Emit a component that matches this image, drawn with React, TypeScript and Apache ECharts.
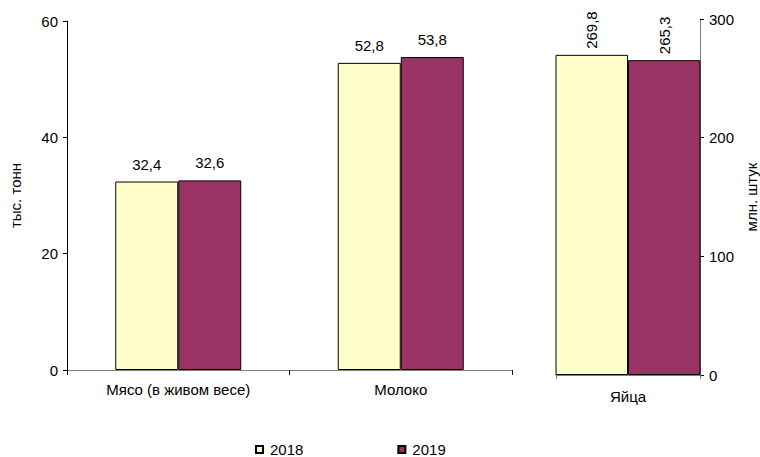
import React, { useEffect, useRef } from "react";
import * as echarts from "echarts";

const leftCategories = ["Мясо (в живом весе)", "Молоко"];
const rightCategories = ["Яйца"];
const seriesNames = ["2018", "2019"];
const left2018 = [32.4, 52.8];
const left2019 = [32.6, 53.8];
const eggs2018 = [269.8];
const eggs2019 = [265.3];
const colors = ["#FFFFCC", "#993366"];

const FONT = "Liberation Sans, Arial, sans-serif";
const fmt = (p: any) => String(p.value).replace(".", ",");

export default function App() {
  const ref = useRef<HTMLDivElement>(null);
  useEffect(() => {
    if (!ref.current) return;
    const chart = echarts.init(ref.current, null, { renderer: "svg" });
    const baseText = { fontFamily: FONT, fontSize: 15, color: "#000" };
    const eggLabel = {
      show: true,
      position: "top",
      rotate: 90,
      align: "left",
      verticalAlign: "middle",
      distance: 6,
      formatter: fmt,
      ...baseText,
    };
    const leftLabel = { show: true, position: "top", distance: 10, formatter: fmt, ...baseText };
    chart.setOption({
      animation: false,
      backgroundColor: "#fff",
      textStyle: { fontFamily: FONT },
      legend: {
        data: seriesNames,
        left: 250,
        top: 437,
        icon: "rect",
        itemWidth: 7,
        itemHeight: 7,
        itemGap: 94,
        textStyle: { ...baseText, padding: [0, 0, 0, 2] },
      },
      grid: [
        { left: 67, top: 21, width: 445, height: 349 },
        { left: 556, top: 19, width: 146, height: 356 },
      ],
      xAxis: [
        {
          type: "category",
          gridIndex: 0,
          data: leftCategories,
          axisLine: { lineStyle: { color: "#808080", width: 1 } },
          axisTick: { show: true, length: 5, lineStyle: { color: "#000" } },
          axisLabel: { ...baseText, margin: 12 },
        },
        {
          type: "category",
          gridIndex: 1,
          data: rightCategories,
          axisLine: { lineStyle: { color: "#808080", width: 1 } },
          axisTick: { show: true, length: 4, lineStyle: { color: "#808080" } },
          axisLabel: { ...baseText, margin: 14 },
        },
      ],
      yAxis: [
        {
          type: "value",
          gridIndex: 0,
          min: 0,
          max: 60,
          interval: 20,
          position: "left",
          name: "тыс. тонн",
          nameLocation: "middle",
          nameRotate: 90,
          nameGap: 44,
          nameTextStyle: { ...baseText },
          axisLine: { show: true, lineStyle: { color: "#000", width: 1 } },
          axisTick: { show: true, length: 4, lineStyle: { color: "#000" } },
          axisLabel: { ...baseText, margin: 9 },
          splitLine: { show: false },
        },
        {
          type: "value",
          gridIndex: 1,
          min: 0,
          max: 300,
          interval: 100,
          position: "right",
          name: "млн. штук",
          nameLocation: "middle",
          nameRotate: 90,
          nameGap: 44,
          nameTextStyle: { ...baseText },
          axisLine: { show: true, lineStyle: { color: "#808080", width: 1 } },
          axisTick: { show: true, length: 4, lineStyle: { color: "#000" } },
          axisLabel: { ...baseText, margin: 9 },
          splitLine: { show: false },
        },
      ],
      series: [
        {
          name: seriesNames[0],
          type: "bar",
          xAxisIndex: 0,
          yAxisIndex: 0,
          data: left2018,
          barWidth: 63,
          barGap: "0%",
          itemStyle: { color: colors[0], borderColor: "#000", borderWidth: 1 },
          label: leftLabel,
        },
        {
          name: seriesNames[1],
          type: "bar",
          xAxisIndex: 0,
          yAxisIndex: 0,
          data: left2019,
          barWidth: 63,
          barGap: "0%",
          itemStyle: { color: colors[1], borderColor: "#000", borderWidth: 1 },
          label: leftLabel,
        },
        {
          name: seriesNames[0],
          type: "bar",
          xAxisIndex: 1,
          yAxisIndex: 1,
          data: eggs2018,
          barWidth: 73,
          barGap: "0%",
          itemStyle: { color: colors[0], borderColor: "#000", borderWidth: 1 },
          label: eggLabel,
        },
        {
          name: seriesNames[1],
          type: "bar",
          xAxisIndex: 1,
          yAxisIndex: 1,
          data: eggs2019,
          barWidth: 73,
          barGap: "0%",
          itemStyle: { color: colors[1], borderColor: "#000", borderWidth: 1 },
          label: eggLabel,
        },
      ],
    });
    return () => chart.dispose();
  }, []);
  return (
    <div
      ref={ref}
      style={{ position: "fixed", left: 0, top: 0, width: 760, height: 457 }}
    />
  );
}
